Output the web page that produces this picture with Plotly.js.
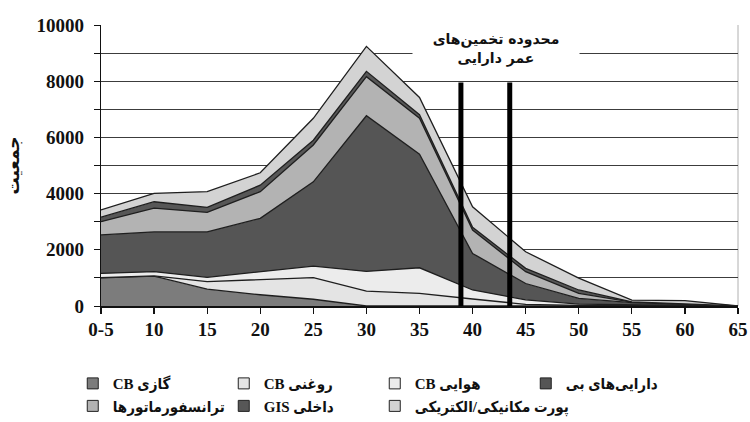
<!DOCTYPE html>
<html>
<head>
<meta charset="utf-8">
<script src="https://cdn.plot.ly/plotly-3.0.1.min.js"></script>
<style>html,body{margin:0;padding:0;background:#fff;}#chart{width:750px;height:422px;}</style>
</head>
<body>
<div id="chart"></div>
<script>
// Age categories (x axis tick labels)
const ages = ['0-5','10','15','20','25','30','35','40','45','50','55','60','65'];

// Stacked series values (population per age band), bottom to top
const gasCB       = [1000,1060, 600, 400, 240,   0,   0,   0,   0,   0,  0,  0, 0];
const oilCB       = [  10,  10, 270, 550, 770, 530, 450, 250,  60,  20, 10,  0, 0];
const airCB       = [ 150, 150, 150, 270, 410, 700, 910, 320, 160,  50, 30, 20, 0];
const bayAssets   = [1370,1420,1620,1900,3000,5540,4040,1300, 580, 200, 80, 40, 0];
const transformers= [ 470, 840, 690, 950,1310,1390,1280, 830, 420, 180, 20, 10, 0];
const indoorGIS   = [ 160, 230, 180, 230, 170, 190, 130, 100, 120, 120, 10,  0, 0];
const ports       = [ 260, 300, 560, 440, 780, 890, 610, 730, 590, 420, 60,120, 0];

// Series names (legend)
const seriesNames = ['CB گازی','CB روغنی','CB هوایی','دارایی‌های بی','ترانسفورماتورها','GIS داخلی','پورت مکانیکی/الکتریکی'];
const seriesValues = [gasCB, oilCB, airCB, bayAssets, transformers, indoorGIS, ports];
const seriesColors = ['#7c7c7c','#e4e4e4','#ececec','#555555','#b3b3b3','#575757','#d3d3d3'];

// Asset life estimate range (ages)
const estimateAges = [38.9, 43.5];
const estimateLabel = 'محدوده تخمین‌های<br>عمر دارایی';
const yTitle = 'جمعیت';

function ageToIndex(a){ return a <= 5 ? 0 : (a - 5) / 5; }

const traces = [];
seriesValues.forEach((vals, i) => {
  traces.push({
    type: 'scatter', mode: 'lines', x: ages, y: vals,
    stackgroup: 'one', fillcolor: seriesColors[i],
    line: {color: '#1e1e1e', width: 1.3},
    name: seriesNames[i], showlegend: false, hoverinfo: 'skip'
  });
});
// legend entries (square swatches)
seriesValues.forEach((vals, i) => {
  traces.push({
    type: 'scatter', mode: 'markers', x: [null], y: [null],
    marker: {symbol: 'square', size: 11, color: seriesColors[i], line: {color: '#222', width: 1}},
    name: seriesNames[i], showlegend: true
  });
});

const shapes = estimateAges.map(a => ({
  type: 'line', xref: 'x', yref: 'y', x0: ageToIndex(a), x1: ageToIndex(a), y0: -90, y1: 7950,
  line: {color: '#000', width: 5}, layer: 'above'
}));
shapes.push({type:'line', xref:'paper', yref:'paper', x0:1, x1:1, y0:0, y1:1, line:{color:'#b0b0b0', width:1}, layer:'below'});

const layout = {
  width: 750, height: 422,
  margin: {l: 101, r: 12, t: 25, b: 116},
  paper_bgcolor: '#fff', plot_bgcolor: '#fff',
  font: {family: 'Liberation Serif, DejaVu Sans, serif', color: '#111'},
  showlegend: true,
  legend: {
    orientation: 'h', xref: 'container', yref: 'container',
    x: 0.097, xanchor: 'left', y: 0.13, yanchor: 'top',
    entrywidth: 106, entrywidthmode: 'pixels', traceorder: 'normal',
    font: {family: 'Liberation Serif, DejaVu Sans Condensed, DejaVu Sans', size: 15, weight: 'bold', color: '#111'},
    itemwidth: 30, tracegroupgap: 0
  },
  xaxis: {
    type: 'category', range: [0, 12], showgrid: false,
    showline: true, linecolor: '#111', linewidth: 1.5,
    ticks: 'outside', ticklen: 6, tickcolor: '#111', tickwidth: 1.2,
    tickfont: {family: 'Liberation Serif', size: 19, weight: 'bold', color: '#111'},
    fixedrange: true
  },
  yaxis: {
    range: [0, 10000], dtick: 2000, tick0: 0, tickformat: 'd',
    showgrid: true, gridcolor: '#3c3c3c', gridwidth: 1,
    minor: {dtick: 1000, showgrid: true, gridcolor: '#3c3c3c', gridwidth: 1, ticks: 'outside', ticklen: 6, tickcolor: '#111'},
    showline: true, linecolor: '#111', linewidth: 1.2,
    ticks: 'outside', ticklen: 6, tickcolor: '#111',
    tickfont: {family: 'Liberation Serif', size: 19, weight: 'bold', color: '#111'},
    ticklabelstandoff: 6,
    zeroline: false,
    title: {text: yTitle, standoff: 12, font: {family: 'DejaVu Sans', size: 17, weight: 'bold', color: '#111'}},
    fixedrange: true
  },
  shapes: shapes,
  annotations: [{
    xref: 'x', yref: 'y', x: 7.45, y: 9130, text: estimateLabel, showarrow: false,
    font: {family: 'DejaVu Sans', size: 14, weight: 'bold', color: '#111'},
    bgcolor: '#fff', width: 166, height: 56, align: 'center', borderpad: 0
  }]
};

Plotly.newPlot('chart', traces, layout, {displayModeBar: false, staticPlot: true});
</script>
</body>
</html>
